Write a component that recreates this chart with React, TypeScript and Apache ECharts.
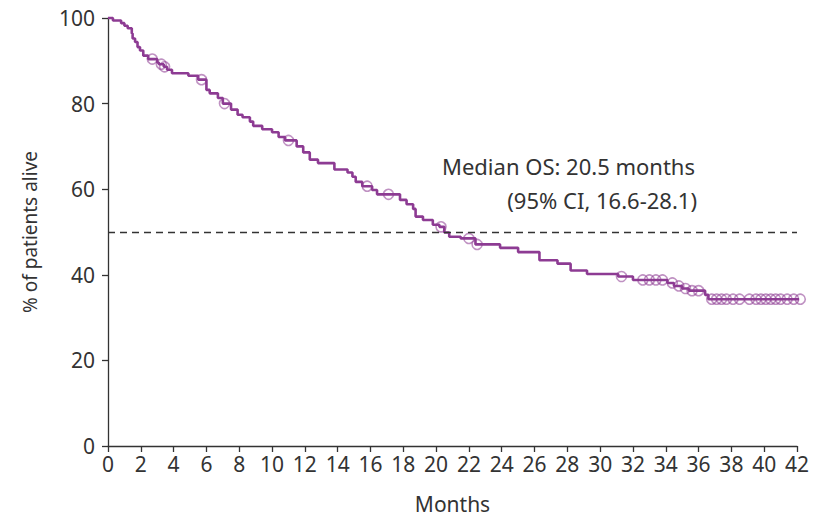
import React, { useEffect, useRef } from "react";
import * as echarts from "echarts";

// Kaplan-Meier estimate: time (months) of each drop and survival (%) after it
const eventMonths = [
  0, 0.3, 0.8, 1.0, 1.2, 1.45, 1.5, 1.65, 1.8, 1.95, 2.15, 2.45, 3.0, 3.1, 3.4,
  3.6, 3.9, 4.9, 5.5, 6.0, 6.2, 6.7, 7.0, 7.5, 7.9, 8.2, 8.65, 8.85, 9.4, 10.0,
  10.4, 10.8, 11.5, 11.9, 12.3, 12.8, 13.8, 14.6, 14.9, 15.1, 15.5, 16.1, 16.4,
  17.8, 18.2, 18.6, 18.75, 19.2, 19.8, 20.2, 20.5, 20.8, 21.5, 22.4, 23.9, 25.0,
  26.3, 27.4, 28.2, 29.2, 31.1, 32.0, 34.1, 34.5, 35.0, 35.4, 36.4, 36.6, 42.3,
];
const survivalPct = [
  100, 99.4, 98.8, 98.2, 97.6, 96.4, 95.2, 94.4, 93.2, 92.4, 91.2, 90.4, 89.6,
  89.2, 88.6, 87.9, 87.1, 86.5, 85.6, 83.2, 82.4, 81.3, 80.0, 78.6, 77.4, 76.8,
  75.8, 74.8, 74.0, 73.3, 72.2, 71.4, 70.0, 68.6, 66.9, 66.1, 64.6, 63.9, 62.9,
  61.7, 60.7, 59.8, 58.8, 57.5, 56.5, 55.4, 53.6, 52.8, 51.7, 51.2, 49.9, 48.9,
  48.5, 47.1, 46.3, 45.3, 43.4, 42.6, 41.0, 40.2, 39.6, 38.8, 38.1, 37.4, 36.8,
  36.3, 35.3, 34.3, 34.3,
];
// Censored patients (months)
const censorMonths = [
  2.7, 3.25, 3.45, 5.7, 7.1, 11.0, 15.8, 17.1, 20.3, 22.0, 22.5, 31.3, 32.6,
  33.0, 33.4, 33.8, 34.4, 34.8, 35.2, 35.6, 36.0, 36.8, 37.1, 37.4, 37.7, 38.1,
  38.5, 39.1, 39.5, 39.8, 40.1, 40.4, 40.7, 41.0, 41.4, 41.8, 42.2,
];
const xTicks = { min: 0, max: 42, interval: 2 };
const yTicks = { min: 0, max: 100, interval: 20 };
const medianPct = 50;
const noteLines = ["Median OS: 20.5 months", "(95% CI, 16.6-28.1)"];

const PURPLE = "#8d3b93";
const INK = "#333333";
const FONT = "'Noto Sans', 'Open Sans', sans-serif";

function survivalAt(t: number): number {
  let s = survivalPct[0];
  for (let i = 0; i < eventMonths.length; i++) {
    if (eventMonths[i] <= t) s = survivalPct[i];
  }
  return s;
}

export default function App() {
  const ref = useRef<HTMLDivElement>(null);

  useEffect(() => {
    if (!ref.current) return;
    const chart = echarts.init(ref.current, undefined, { renderer: "svg" });
    const curve = eventMonths.map((t, i) => [t, survivalPct[i]]);
    const censored = censorMonths.map((t) => [t, survivalAt(t)]);

    chart.setOption({
      animation: false,
      backgroundColor: "#ffffff",
      textStyle: { fontFamily: FONT },
      grid: {
        left: 108,
        right: 24,
        top: 18,
        bottom: 73,
        containLabel: false,
        outerBoundsMode: "none",
      },
      xAxis: {
        type: "value",
        min: xTicks.min,
        max: xTicks.max,
        interval: xTicks.interval,
        name: "Months",
        nameLocation: "middle",
        nameGap: 47,
        nameTextStyle: { color: INK, fontSize: 21, fontFamily: FONT },
        axisLine: { lineStyle: { color: INK, width: 1.3 } },
        axisTick: { length: 6, lineStyle: { color: INK, width: 1.3 } },
        axisLabel: { color: INK, fontSize: 21, margin: 7, fontFamily: FONT },
        splitLine: { show: false },
      },
      yAxis: {
        type: "value",
        min: yTicks.min,
        max: yTicks.max,
        interval: yTicks.interval,
        name: "% of patients alive",
        nameLocation: "middle",
        nameRotate: 90,
        nameGap: 69,
        nameTextStyle: { color: INK, fontSize: 19, fontFamily: FONT },
        axisLine: { show: true, lineStyle: { color: INK, width: 1.3 } },
        axisTick: { show: true, length: 6, lineStyle: { color: INK, width: 1.3 } },
        axisLabel: { color: INK, fontSize: 21, margin: 13, fontFamily: FONT },
        splitLine: { show: false },
      },
      series: [
        {
          type: "line",
          step: "end",
          data: curve,
          showSymbol: false,
          clip: false,
          lineStyle: { color: PURPLE, width: 2.6 },
          z: 3,
          markLine: {
            silent: true,
            symbol: "none",
            label: { show: false },
            lineStyle: { color: INK, type: [7, 5], width: 1.3 },
            data: [{ yAxis: medianPct }],
          },
        },
        {
          type: "scatter",
          data: censored,
          clip: false,
          symbol: "circle",
          symbolSize: 10,
          itemStyle: {
            color: "rgba(0,0,0,0)",
            borderColor: "rgba(141,59,147,0.7)",
            borderWidth: 1.6,
          },
          z: 4,
        },
      ],
      graphic: [
        {
          type: "text",
          right: 126,
          top: 155,
          style: { text: noteLines[0], fill: INK, font: `22px ${FONT}`, textAlign: "right" },
        },
        {
          type: "text",
          right: 124,
          top: 189,
          style: { text: noteLines[1], fill: INK, font: `22px ${FONT}`, textAlign: "right" },
        },
      ],
    });

    return () => chart.dispose();
  }, []);

  return (
    <div
      ref={ref}
      style={{ position: "fixed", left: 0, top: 0, width: 821, height: 519, background: "#fff" }}
    />
  );
}
